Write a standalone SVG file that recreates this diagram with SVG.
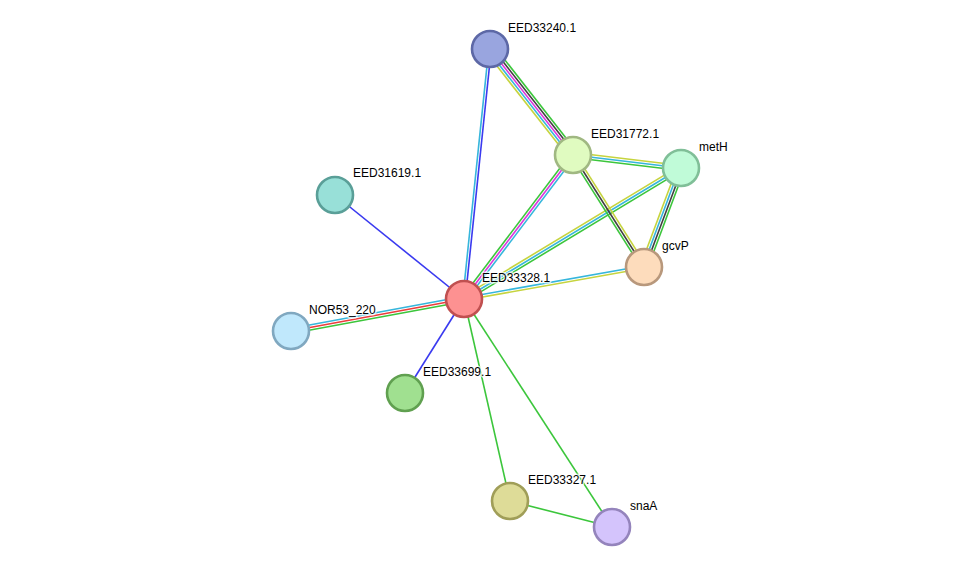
<svg xmlns="http://www.w3.org/2000/svg" width="976" height="573" viewBox="0 0 976 573">
<style>
.e line{stroke-width:1.6;fill:none}
.g{stroke:#3cc63c}.y{stroke:#c6d43e}.c{stroke:#36b6dc}.m{stroke:#dc36dc}.k{stroke:#404040}.r{stroke:#ec3c3c}.b{stroke:#3a3af0}
.n circle{stroke-width:2.6}
.n text{font-family:"Liberation Sans",Arial,sans-serif;font-size:12px;fill:#000;stroke:#fff;stroke-width:3;stroke-opacity:0.7;paint-order:stroke;stroke-linejoin:round}
</style>
<rect width="976" height="573" fill="#fff"/>
<g id="edges" class="e">
<g transform="translate(490,49) rotate(51.94)"><line class="y" x1="0" y1="5" x2="134.6" y2="5"/><line class="c" x1="0" y1="2.5" x2="134.6" y2="2.5"/><line class="m" x1="0" y1="0" x2="134.6" y2="0"/><line class="k" x1="0" y1="-2.5" x2="134.6" y2="-2.5"/><line class="g" x1="0" y1="-5" x2="134.6" y2="-5"/></g>
<g transform="translate(490,49) rotate(95.94)"><line class="c" x1="0" y1="1.25" x2="251.3" y2="1.25"/><line class="b" x1="0" y1="-1.25" x2="251.3" y2="-1.25"/></g>
<line class="b" x1="335" y1="195" x2="464" y2="299"/>
<g transform="translate(573,155) rotate(127.12)"><line class="g" x1="0" y1="2.5" x2="180.6" y2="2.5"/><line class="m" x1="0" y1="0" x2="180.6" y2="0"/><line class="c" x1="0" y1="-2.5" x2="180.6" y2="-2.5"/></g>
<g transform="translate(681,168) rotate(148.88)"><line class="y" x1="0" y1="2.5" x2="253.5" y2="2.5"/><line class="c" x1="0" y1="0" x2="253.5" y2="0"/><line class="g" x1="0" y1="-2.5" x2="253.5" y2="-2.5"/></g>
<g transform="translate(644,267) rotate(169.92)"><line class="c" x1="0" y1="1.25" x2="182.8" y2="1.25"/><line class="y" x1="0" y1="-1.25" x2="182.8" y2="-1.25"/></g>
<g transform="translate(291,331) rotate(-10.48)"><line class="g" x1="0" y1="2.5" x2="175.9" y2="2.5"/><line class="r" x1="0" y1="0" x2="175.9" y2="0"/><line class="c" x1="0" y1="-2.5" x2="175.9" y2="-2.5"/></g>
<line class="b" x1="405" y1="393" x2="464" y2="299"/>
<line class="g" x1="510" y1="501" x2="464" y2="299"/>
<line class="g" x1="612" y1="527" x2="464" y2="299"/>
<line class="g" x1="510" y1="501" x2="612" y2="527"/>
<g transform="translate(573,155) rotate(6.86)"><line class="y" x1="0" y1="-2.5" x2="108.8" y2="-2.5"/><line class="c" x1="0" y1="0" x2="108.8" y2="0"/><line class="g" x1="0" y1="2.5" x2="108.8" y2="2.5"/></g>
<g transform="translate(573,155) rotate(57.63)"><line class="g" x1="0" y1="2.5" x2="132.6" y2="2.5"/><line class="k" x1="0" y1="0" x2="132.6" y2="0"/><line class="y" x1="0" y1="-2.5" x2="132.6" y2="-2.5"/></g>
<g transform="translate(681,168) rotate(110.49)"><line class="y" x1="0" y1="3.75" x2="105.7" y2="3.75"/><line class="c" x1="0" y1="1.25" x2="105.7" y2="1.25"/><line class="k" x1="0" y1="-1.25" x2="105.7" y2="-1.25"/><line class="g" x1="0" y1="-3.75" x2="105.7" y2="-3.75"/></g>
</g>
<g id="EED33240.1" class="n"><circle cx="490" cy="49" r="18" fill="#99a5df" stroke="#5d68a6"/><text x="508" y="32">EED33240.1</text></g>
<g id="EED31772.1" class="n"><circle cx="573" cy="155" r="18" fill="#e0fbc0" stroke="#a0b882"/><text x="591" y="138">EED31772.1</text></g>
<g id="metH" class="n"><circle cx="681" cy="168" r="18" fill="#c0fbd8" stroke="#80bf98"/><text x="699" y="151">metH</text></g>
<g id="gcvP" class="n"><circle cx="644" cy="267" r="18" fill="#fddcbc" stroke="#b8987c"/><text x="662" y="250">gcvP</text></g>
<g id="EED31619.1" class="n"><circle cx="335" cy="195" r="18" fill="#98e0d8" stroke="#5a9f98"/><text x="353" y="177">EED31619.1</text></g>
<g id="EED33328.1" class="n"><circle cx="464" cy="299" r="18" fill="#fd9191" stroke="#c05050"/><text x="482" y="282">EED33328.1</text></g>
<g id="NOR53_220" class="n"><circle cx="291" cy="331" r="18" fill="#c0e8fc" stroke="#80a8c0"/><text x="309" y="314">NOR53_220</text></g>
<g id="EED33699.1" class="n"><circle cx="405" cy="393" r="18" fill="#a0e090" stroke="#60a050"/><text x="423" y="376">EED33699.1</text></g>
<g id="EED33327.1" class="n"><circle cx="510" cy="501" r="18" fill="#dedc98" stroke="#a09e58"/><text x="528" y="484">EED33327.1</text></g>
<g id="snaA" class="n"><circle cx="612" cy="527" r="18" fill="#d4c4fc" stroke="#9484bc"/><text x="630" y="510">snaA</text></g>
</svg>
